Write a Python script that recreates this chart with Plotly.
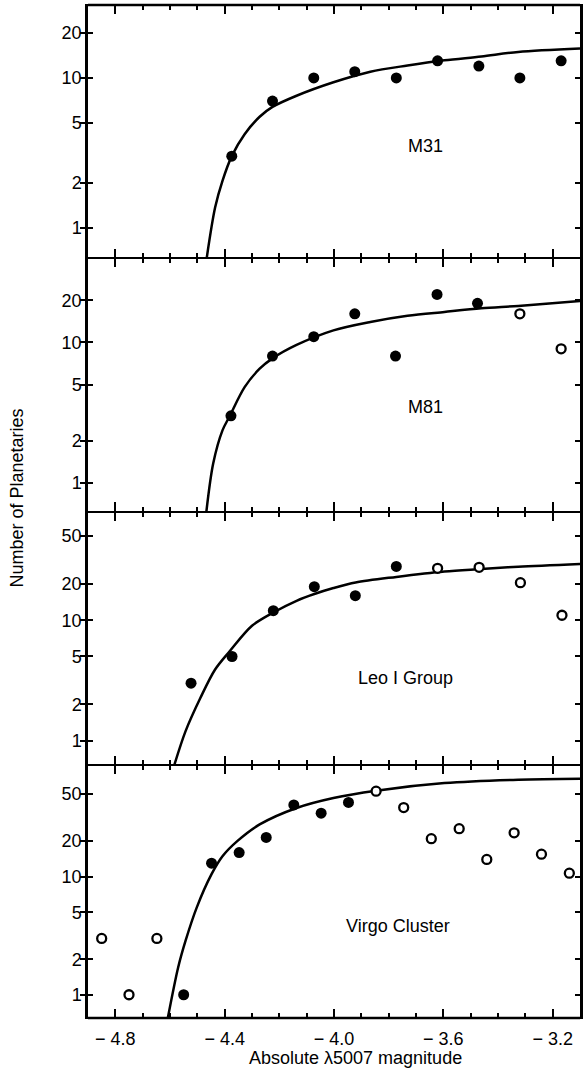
import math
import plotly.graph_objects as go
from plotly.subplots import make_subplots

# ---------------- data ----------------
panel_names = ["M31", "M81", "Leo I Group", "Virgo Cluster"]

# M31
m31_fill_x = [-4.374, -4.225, -4.074, -3.924, -3.772, -3.621, -3.470, -3.320, -3.169]
m31_fill_n = [3, 7, 10, 11, 10, 13, 12, 10, 13]
m31_open_x = []
m31_open_n = []
m31_curve_x = [-4.466, -4.435, -4.408, -4.374, -4.327, -4.272, -4.225, -4.137, -4.002,
               -3.867, -3.731, -3.596, -3.461, -3.326, -3.10]
m31_curve_n = [0.62, 1.36, 2.05, 3.0, 4.2, 5.5, 6.4, 7.6, 9.35, 11.0, 12.1, 13.1, 13.9, 14.9, 15.7]

# M81
m81_fill_x = [-4.377, -4.225, -4.074, -3.924, -3.775, -3.623, -3.475]
m81_fill_n = [3, 8, 11, 16, 8, 22, 19]
m81_open_x = [-3.320, -3.169]
m81_open_n = [16, 9]
m81_curve_x = [-4.467, -4.442, -4.408, -4.381, -4.327, -4.272, -4.225, -4.137, -4.002,
               -3.867, -3.731, -3.596, -3.461, -3.326, -3.10]
m81_curve_n = [0.62, 1.37, 2.36, 3.0, 4.8, 6.5, 7.7, 9.6, 12.2, 14.0, 15.5, 16.5, 17.5, 18.2, 19.7]

# Leo I Group
leo_fill_x = [-4.523, -4.373, -4.222, -4.072, -3.922, -3.772]
leo_fill_n = [3, 5, 12, 19, 16, 28]
leo_open_x = [-3.621, -3.469, -3.318, -3.166]
leo_open_n = [27, 27.5, 20.5, 11]
leo_curve_x = [-4.584, -4.543, -4.489, -4.435, -4.381, -4.300, -4.222, -4.137, -4.072,
               -4.002, -3.921, -3.772, -3.596, -3.461, -3.326, -3.10]
leo_curve_n = [0.63, 1.2, 2.26, 3.9, 5.55, 9.0, 11.6, 14.5, 16.5, 18.5, 20.6, 22.9, 25.4,
               26.6, 27.8, 29.3]

# Virgo Cluster
vir_fill_x = [-4.550, -4.448, -4.347, -4.248, -4.147, -4.047, -3.947]
vir_fill_n = [1, 13, 16, 21.5, 40.5, 34.5, 42.5]
vir_open_x = [-4.850, -4.750, -4.648, -3.846, -3.745, -3.644, -3.542, -3.441, -3.341,
              -3.241, -3.139]
vir_open_n = [3, 1, 3, 53, 38.5, 21, 25.5, 14, 23.5, 15.5, 10.7]
vir_curve_x = [-4.608, -4.570, -4.543, -4.502, -4.448, -4.408, -4.354, -4.272, -4.137,
               -4.002, -3.846, -3.596, -3.326, -3.10]
vir_curve_n = [0.635, 1.71, 2.87, 5.5, 10.5, 14.9, 20.0, 27.7, 38.2, 46.4, 53.5, 62.0,
               66.3, 67.6]

x_tickvals = [-4.8, -4.4, -4.0, -3.6, -3.2]
x_ticktext = ["\u2212 4.8", "\u2212 4.4", "\u2212 4.0", "\u2212 3.6", "\u2212 3.2"]
x_minor = [-4.9, -4.7, -4.6, -4.5, -4.3, -4.2, -4.1, -3.9, -3.8, -3.7, -3.5, -3.4, -3.3]

y_ticks_small = [1, 2, 5, 10, 20]
y_ticks_large = [1, 2, 5, 10, 20, 50]

# log10 ranges per panel
y_ranges = [[-0.205, 1.487], [-0.205, 1.60], [-0.20, 1.903], [-0.197, 1.948]]
label_pos = [(-3.665, 3.5), (-3.665, 3.48), (-3.74, 3.34), (-3.765, 3.84)]
X_RANGE = [-4.9, -3.1]

panels = [
    (m31_fill_x, m31_fill_n, m31_open_x, m31_open_n, m31_curve_x, m31_curve_n, y_ticks_small),
    (m81_fill_x, m81_fill_n, m81_open_x, m81_open_n, m81_curve_x, m81_curve_n, y_ticks_small),
    (leo_fill_x, leo_fill_n, leo_open_x, leo_open_n, leo_curve_x, leo_curve_n, y_ticks_large),
    (vir_fill_x, vir_fill_n, vir_open_x, vir_open_n, vir_curve_x, vir_curve_n, y_ticks_large),
]

FONT = "Liberation Sans, Arial, Helvetica, sans-serif"

fig = make_subplots(rows=4, cols=1, shared_xaxes=True, vertical_spacing=0)

for i, (fx, fn, ox, on, cx, cn, yt) in enumerate(panels):
    row = i + 1
    axn = "" if row == 1 else str(row)
    fig.add_trace(go.Scatter(x=cx, y=cn, mode="lines",
                             line=dict(color="black", width=2.5, shape="spline", smoothing=0.9),
                             showlegend=False, hoverinfo="skip"), row=row, col=1)
    fig.add_trace(go.Scatter(x=fx, y=fn, mode="markers",
                             marker=dict(symbol="circle", size=11, color="black"),
                             showlegend=False), row=row, col=1)
    if ox:
        fig.add_trace(go.Scatter(x=ox, y=on, mode="markers",
                                 marker=dict(symbol="circle", size=9, color="white",
                                             line=dict(color="black", width=2.3)),
                                 showlegend=False), row=row, col=1)
    fig.update_yaxes(type="log", range=y_ranges[i], tickvals=yt, ticktext=[str(v) for v in yt],
                     ticks="inside", ticklen=5, tickwidth=2, tickcolor="black",
                     mirror="allticks", showline=True, linewidth=2.5, linecolor="black",
                     showgrid=False, zeroline=False,
                     tickfont=dict(family=FONT, size=18, color="black"),
                     row=row, col=1)
    fig.update_xaxes(range=X_RANGE, tickmode="array", tickvals=x_tickvals,
                     ticktext=x_ticktext, ticklabelstandoff=4,
                     ticks="inside", ticklen=9, tickwidth=2, tickcolor="black",
                     mirror="allticks", showline=True, linewidth=1.3, linecolor="black",
                     showgrid=False, zeroline=False,
                     tickfont=dict(family=FONT, size=18, color="black"),
                     row=row, col=1)
    # overlay x axis carrying the short minor ticks
    n_ov = 4 + row
    fig.update_layout(**{f"xaxis{n_ov}": dict(
        overlaying="x" + axn, anchor="y" + axn, range=X_RANGE,
        tickmode="array", tickvals=x_minor, showticklabels=False,
        ticks="inside", ticklen=5, tickwidth=2, tickcolor="black",
        mirror="allticks", showline=False, showgrid=False, zeroline=False)})
    fig.add_trace(go.Scatter(x=cx, y=cn, mode="lines", xaxis=f"x{n_ov}", yaxis="y" + axn,
                             line=dict(width=0, color="rgba(0,0,0,0)"), opacity=0,
                             showlegend=False, hoverinfo="skip"))
    lx, ly = label_pos[i]
    fig.add_annotation(x=lx, y=math.log10(ly), xref="x" + axn, yref="y" + axn,
                       text=panel_names[i], showarrow=False,
                       xanchor="center", yanchor="middle",
                       font=dict(family=FONT, size=18, color="black"))

# outer top and bottom frame lines at full weight
for yb in [0.0, 1.0]:
    fig.add_shape(type="line", xref="paper", yref="paper", x0=0, x1=1, y0=yb, y1=yb,
                  line=dict(color="black", width=2.5), layer="above")

fig.add_annotation(x=-0.1434, y=0.5133, xref="paper", yref="paper",
                   text="Number of Planetaries", textangle=-90, showarrow=False,
                   xanchor="center", yanchor="middle",
                   font=dict(family=FONT, size=18, color="black"))
fig.add_annotation(x=0.5434, y=-0.0395, xref="paper", yref="paper",
                   text="Absolute \u03bb5007 magnitude", showarrow=False,
                   xanchor="center", yanchor="middle",
                   font=dict(family=FONT, size=18, color="black"))

fig.update_layout(width=583, height=1071,
                  margin=dict(l=88, r=0, t=5, b=53),
                  plot_bgcolor="white", paper_bgcolor="white",
                  showlegend=False)

fig.write_html("out.html")
